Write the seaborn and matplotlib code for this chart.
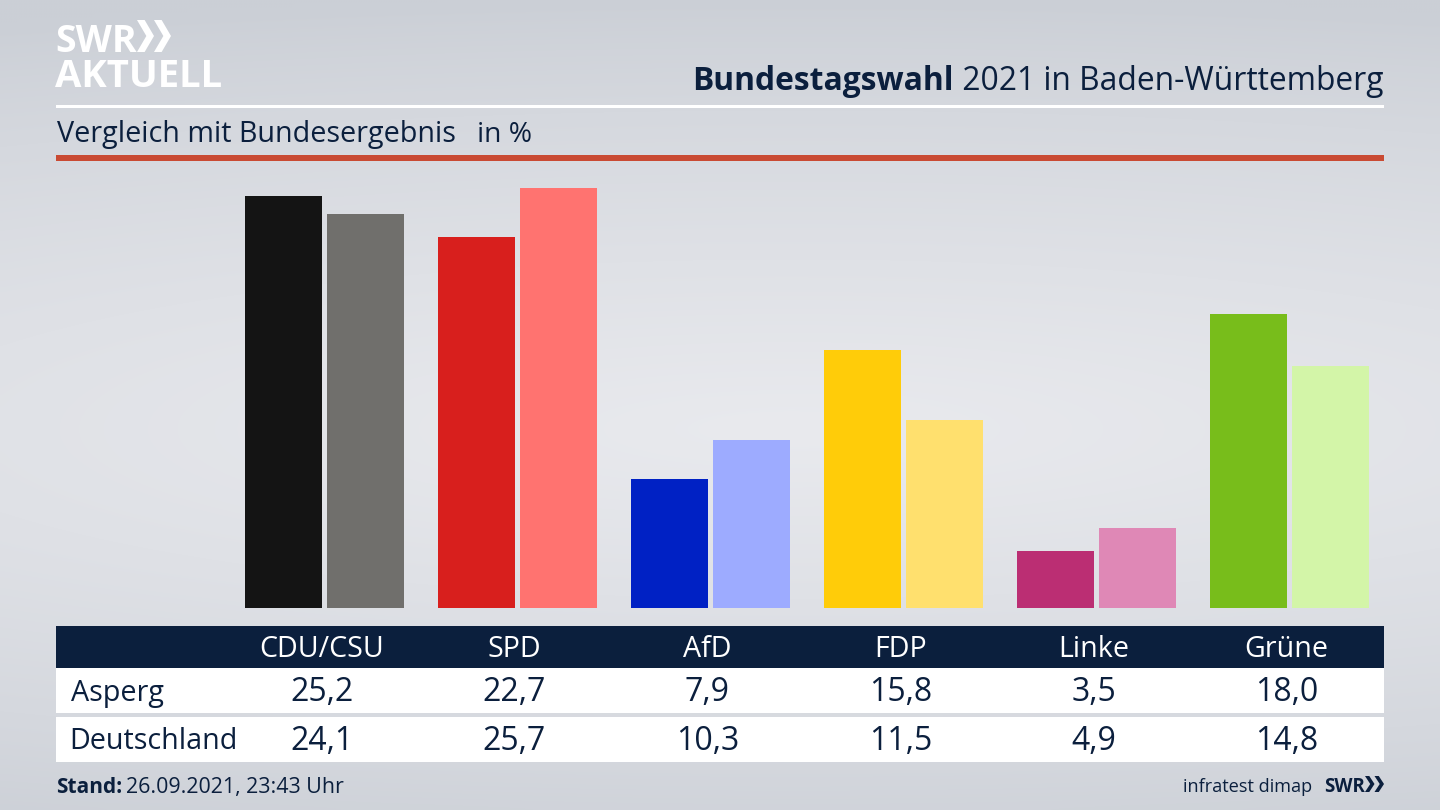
import matplotlib
matplotlib.use("Agg")
import matplotlib.pyplot as plt
from matplotlib.patches import Polygon, Rectangle
import numpy as np
import pandas as pd
import seaborn as sns

parties = ["CDU/CSU", "SPD", "AfD", "FDP", "Linke", "Grüne"]
asperg = [25.2, 22.7, 7.9, 15.8, 3.5, 18.0]
deutschland = [24.1, 25.7, 10.3, 11.5, 4.9, 14.8]
colors_asperg = ["#141414", "#d81f1d", "#0021c4", "#ffcc09", "#bb2e73", "#78bd1b"]
colors_deutschland = ["#706f6c", "#ff7370", "#9dabff", "#ffe06e", "#df88b6", "#d3f5a8"]

NAVY = "#0b1f3d"

sns.set_theme(style="white")
plt.rcParams["font.family"] = ["Open Sans", "DejaVu Sans"]

fig = plt.figure(figsize=(14.4, 8.1), dpi=100)

# background + layout, pixel coordinates of the 1440x810 frame
bg = fig.add_axes([0, 0, 1, 1])
bg.set_xlim(0, 1440)
bg.set_ylim(810, 0)
bg.axis("off")
yy, xx = np.mgrid[0:1:162j, 0:1:288j]
shade = np.clip(1 - np.sqrt(((yy - 0.53) / 0.53) ** 2 + 0.12 * ((xx - 0.55) / 0.55) ** 2), 0, 1)
light, dark = np.array([233, 234, 238]) / 255, np.array([203, 207, 214]) / 255
grad = dark + (light - dark) * shade[..., None] ** 0.8
bg.imshow(grad, extent=(0, 1440, 810, 0), aspect="auto", interpolation="bicubic", zorder=0)

def band(x0, y0, x1, y1, color):
    bg.add_patch(Rectangle((x0, y0), x1 - x0, y1 - y0, fc=color, ec="none", zorder=1))

def chevrons(x, top, bottom, w, color):
    # the two arrow heads of the SWR logo
    mid = (top + bottom) / 2
    for x0 in (x, x + w):
        pts = [(x0, top), (x0 + w * 0.45, top), (x0 + w, mid), (x0 + w * 0.45, bottom), (x0, bottom), (x0 + w * 0.55, mid)]
        bg.add_patch(Polygon(pts, closed=True, fc=color, ec="none", zorder=3))

def txt(x, y, s, color=NAVY, size=20, weight="normal", ha="left"):
    return bg.text(x, y, s, color=color, fontsize=size, fontweight=weight, va="baseline", ha=ha, zorder=3)

band(56, 104.5, 1384, 107.5, "white")
band(56, 155, 1384, 160.5, "#c94a33")
band(56, 626, 1384, 668, NAVY)
band(56, 668, 1384, 713, "white")
band(56, 717, 1384, 762, "white")

# bars: x axis 193 px per party, first group centred on 324.8 px, baseline at 608 px
ax = fig.add_axes([56 / 1440, (810 - 608) / 810, 1328 / 1440, 440 / 810])
ax.patch.set_alpha(0)
df = pd.DataFrame({
    "Partei": parties * 2,
    "Wert": asperg + deutschland,
    "Gebiet": ["Asperg"] * 6 + ["Deutschland"] * 6,
})
sns.barplot(data=df, x="Partei", y="Wert", hue="Gebiet", order=parties, width=0.85, gap=0.06,
            legend=False, saturation=1, ax=ax)
for cont, cols in zip(ax.containers, [colors_asperg, colors_deutschland]):
    for bar, col in zip(cont, cols):
        bar.set_facecolor(col)
        bar.set_edgecolor("none")
ax.set_xlim((56 - 324.8) / 193, (1384 - 324.8) / 193)
ax.set_ylim(0, 440 / 16.34)
ax.axis("off")

# header
txt(55, 52, "SWR", "white", 27, "bold")
chevrons(137, 20, 52, 17, "white")
txt(55, 87, "AKTUELL", "white", 27.5, "bold")

rest = txt(1383, 90, " 2021 in Baden-Württemberg", size=22.9, ha="right")
fig.canvas.draw()
left_px = rest.get_window_extent().x0 * 1440 / fig.bbox.width
txt(left_px, 90, "Bundestagswahl", size=22.9, weight="bold", ha="right")

txt(57, 142, "Vergleich mit Bundesergebnis", size=20.7)
txt(477, 142, "in %", size=20.3)

# table
for i, party in enumerate(parties):
    cx = 321.5 + 193 * i
    txt(cx, 657, party, "white", 20.6, ha="center")
    txt(cx, 701, f"{asperg[i]:.1f}".replace(".", ","), size=23, ha="center")
    txt(cx, 750, f"{deutschland[i]:.1f}".replace(".", ","), size=23, ha="center")
txt(71, 701, "Asperg", size=20.7)
txt(69.5, 749, "Deutschland", size=20.7)

# footer
txt(56, 793, "Stand:", size=15, weight="bold")
txt(126, 793, "26.09.2021, 23:43 Uhr", size=15.4)
txt(1312, 792, "infratest dimap", size=13.1, ha="right")
txt(1324, 792, "SWR", size=13.5, weight="bold")
chevrons(1365, 776, 792, 9.5, NAVY)

fig.savefig("out.png", dpi=100)
